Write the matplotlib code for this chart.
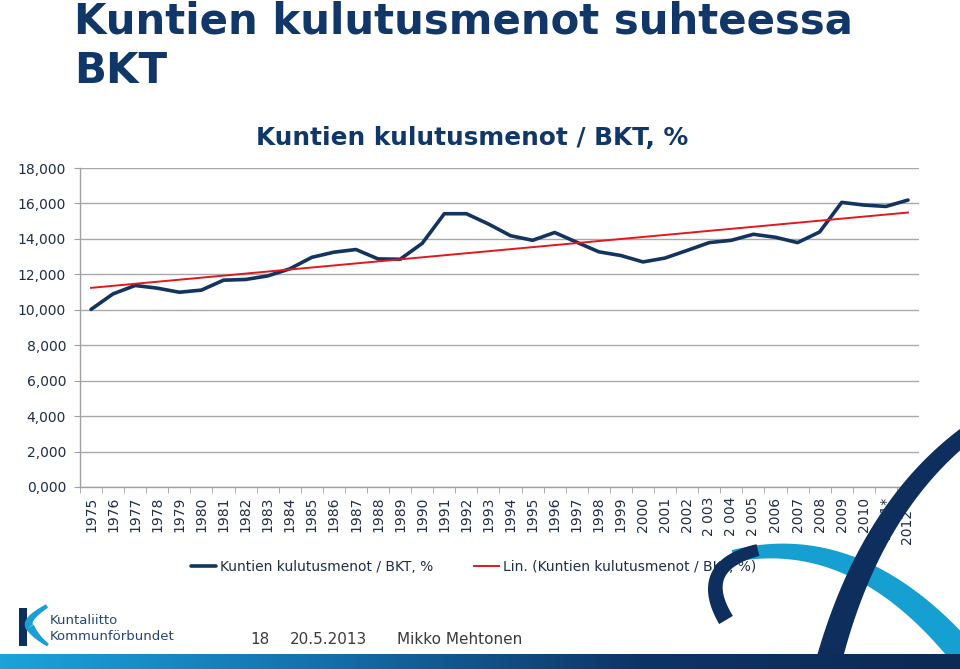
import numpy as np
import matplotlib
matplotlib.use("Agg")
import matplotlib.pyplot as plt
from matplotlib.patches import Polygon
from matplotlib.colors import LinearSegmentedColormap

# ---------------- data ----------------
years = ["1975", "1976", "1977", "1978", "1979", "1980", "1981", "1982", "1983",
         "1984", "1985", "1986", "1987", "1988", "1989", "1990", "1991", "1992",
         "1993", "1994", "1995", "1996", "1997", "1998", "1999", "2000", "2001",
         "2002", "2 003", "2 004", "2 005", "2006", "2007", "2008", "2009", "2010",
         "2011*", "2012   "]
values = [10.02, 10.90, 11.37, 11.22, 10.99, 11.11, 11.67, 11.71, 11.91,
          12.31, 12.96, 13.25, 13.40, 12.87, 12.85, 13.75, 15.42, 15.42,
          14.84, 14.18, 13.92, 14.36, 13.81, 13.27, 13.06, 12.70, 12.92,
          13.35, 13.79, 13.92, 14.26, 14.09, 13.79, 14.39, 16.06, 15.91,
          15.83, 16.19]
y_ticks = [0, 2, 4, 6, 8, 10, 12, 14, 16, 18]

series_name = "Kuntien kulutusmenot / BKT, %"
trend_name = "Lin. (Kuntien kulutusmenot / BKT, %)"
main_title = "Kuntien kulutusmenot suhteessa\nBKT"
footer_page = "18"
footer_date = "20.5.2013"
footer_author = "Mikko Mehtonen"

W, H = 960, 669
NAVY = "#13345f"
TITLE_C = "#113768"
TXT = "#1f2d48"

fig = plt.figure(figsize=(W / 100, H / 100), dpi=100)
fig.patch.set_facecolor("white")

def fx(px):
    return px / W

def fy(py):
    return 1 - py / H

# ---------------- chart ----------------
ax = fig.add_axes([fx(80), fy(487), fx(919) - fx(80), fy(168) - fy(487)])
x = np.arange(len(values))
ax.plot(x, values, color=NAVY, lw=2.6, solid_capstyle="round",
        solid_joinstyle="round", label=series_name, zorder=3)
coef = np.polyfit(x, values, 1)
ax.plot(x, np.polyval(coef, x), color="#e4171c", lw=1.4, label=trend_name, zorder=4)

ax.set_xlim(-0.5, len(values) - 0.5)
ax.set_ylim(0, 18)
ax.set_yticks(y_ticks)
ax.set_yticklabels([f"{v:.3f}".replace(".", ",") for v in y_ticks],
                   fontsize=10, color=TXT)
ax.yaxis.grid(True, color="#a9a9a9", lw=1.0)
ax.set_axisbelow(True)
ax.set_xticks(x)
ax.set_xticklabels(years, rotation=90, fontsize=10, color=TXT, va="top", ha="center")
ax.set_xticks(np.arange(len(values) + 1) - 0.5, minor=True)
ax.tick_params(axis="x", which="major", length=0, pad=7)
ax.tick_params(axis="x", which="minor", length=4, color="#a0a0a0", direction="out")
ax.tick_params(axis="y", length=4, color="#a0a0a0", pad=6)
for s in ["top", "right"]:
    ax.spines[s].set_visible(False)
for s in ["left", "bottom"]:
    ax.spines[s].set_color("#a0a0a0")
    ax.spines[s].set_linewidth(1.0)

fig.text(fx(472), fy(138), series_name, ha="center", va="center",
         fontsize=17.8, fontweight="bold", color=TITLE_C)

leg = ax.legend(loc="center left", bbox_to_anchor=(fx(191), fy(567)),
                bbox_transform=fig.transFigure, ncol=2, frameon=False,
                fontsize=10, handlelength=1.8, handletextpad=0.3,
                columnspacing=2.9, borderpad=0, borderaxespad=0)
for t in leg.get_texts():
    t.set_color(TXT)

# ---------------- slide title ----------------
fig.text(fx(74), fy(1), main_title, ha="left", va="top", fontsize=30.2,
         fontweight="bold", color=TITLE_C, linespacing=1.22)

# ---------------- decoration overlay ----------------
ov = fig.add_axes([0, 0, 1, 1], zorder=10)
ov.set_xlim(0, W)
ov.set_ylim(H, 0)
ov.axis("off")
ov.patch.set_alpha(0)

def band(p0, p1, p2, w0, w1, color, n=80):
    t = np.linspace(0, 1, n)[:, None]
    P0, P1, P2 = map(np.array, (p0, p1, p2))
    c = (1 - t) ** 2 * P0 + 2 * (1 - t) * t * P1 + t ** 2 * P2
    d = 2 * (1 - t) * (P1 - P0) + 2 * t * (P2 - P1)
    nrm = np.column_stack([-d[:, 1], d[:, 0]])
    nrm /= np.linalg.norm(nrm, axis=1)[:, None]
    w = (w0 + (w1 - w0) * t) / 2
    pts = np.vstack([c + nrm * w, (c - nrm * w)[::-1]])
    ov.add_patch(Polygon(pts, closed=True, facecolor=color, edgecolor="none"))

# light blue arc
band((733, 556), (860, 528), (968, 660), 12, 28, "#16a0d2")
# dark hook on left end of the arc
band((758, 550), (694, 566), (726, 620), 12, 16, "#0e2f5e")
# dark navy sweeping arc
band((975, 428), (868, 505), (826, 672), 16, 26, "#0e2f5e")

# bottom gradient bar
cmap = LinearSegmentedColormap.from_list("bar", ["#1ba3da", "#1470ac", "#0e3466", "#0b2a55"])
grad = np.linspace(0, 1, 256)[None, :]
ov.imshow(grad, extent=[0, W, H, 654], cmap=cmap, aspect="auto", zorder=1)
ov.set_xlim(0, W)
ov.set_ylim(H, 0)

# logo
ov.add_patch(Polygon([(19, 608), (27, 608), (27, 646), (19, 646)], closed=True,
                     facecolor="#0e2f5e", edgecolor="none"))
band((47, 606), (24, 620), (30, 627), 4, 9, "#1a9fd4")
band((30, 627), (36, 637), (48, 645), 9, 3, "#1a9fd4")
fig.text(fx(50), fy(621), "Kuntaliitto", ha="left", va="center", fontsize=9.5, color="#24466e")
fig.text(fx(50), fy(637), "Kommunförbundet", ha="left", va="center", fontsize=9.5, color="#24466e")

# footer text
fig.text(fx(250), fy(640), footer_page, ha="left", va="center", fontsize=11, color="#3a3a3a")
fig.text(fx(290), fy(640), footer_date, ha="left", va="center", fontsize=11, color="#3a3a3a")
fig.text(fx(397), fy(640), footer_author, ha="left", va="center", fontsize=11, color="#3a3a3a")

fig.savefig("out.png", dpi=100, facecolor="white")
